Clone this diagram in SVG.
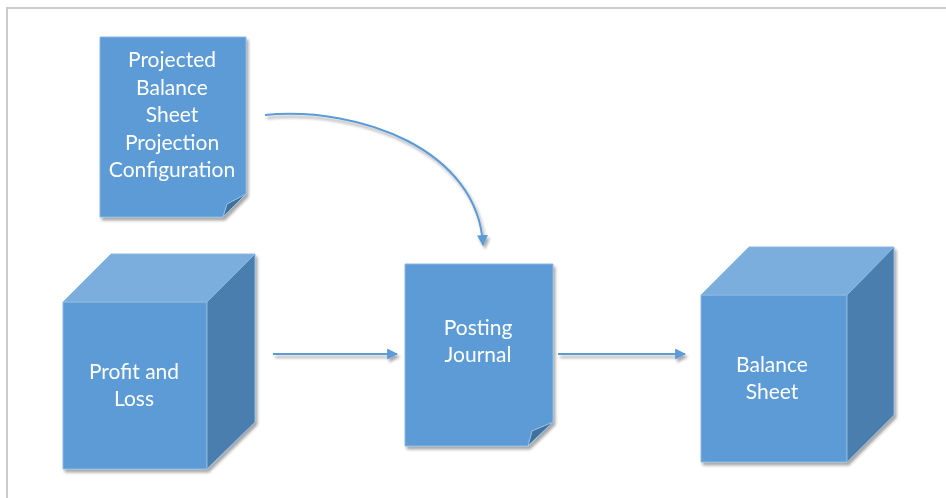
<svg xmlns="http://www.w3.org/2000/svg" width="946" height="498" viewBox="0 0 946 498">
<defs>
<filter id="sh" x="-10%" y="-10%" width="130%" height="130%">
<feGaussianBlur in="SourceAlpha" stdDeviation="1.5"/>
<feOffset dx="2" dy="3" result="b"/>
<feComponentTransfer><feFuncA type="linear" slope="0.35"/></feComponentTransfer>
<feMerge><feMergeNode/><feMergeNode in="SourceGraphic"/></feMerge>
</filter>
<marker id="ah" viewBox="0 0 10 10" refX="9" refY="5" markerWidth="5.5" markerHeight="5.5" orient="auto" markerUnits="strokeWidth">
<path d="M0,0 L10,5 L0,10 Z" fill="#5B9BD5"/>
</marker>
</defs>
<style>
.front{fill:#5B9BD5;stroke:#8DB8E2;stroke-width:1}
.top{fill:#7CAEDD;stroke:#8DB8E2;stroke-width:1}
.side{fill:#497EAE;stroke:#8DB8E2;stroke-width:1}
.fold{fill:#41719C;stroke:#9CC3E8;stroke-width:1}
.t{font-family:"Lato","Open Sans","Liberation Sans",sans-serif;font-size:21px;fill:#ffffff;text-anchor:middle}
.c{fill:none;stroke:#5B9BD5;stroke-width:2;marker-end:url(#ah)}
</style>
<rect x="0" y="0" width="946" height="498" fill="#ffffff"/>
<path d="M7,498 L7,8 L946,8" fill="none" stroke="#cccccc" stroke-width="2"/>

<g id="config" filter="url(#sh)">
<path class="front" d="M100,37 L246,37 L246,194 L223,217 L100,217 Z"/>
<path class="fold" d="M223,217 L227,204 L246,194 Z"/>
<text class="t" x="172" y="67">Projected</text>
<text class="t" x="172" y="94.5">Balance</text>
<text class="t" x="172" y="122">Sheet</text>
<text class="t" x="172" y="149.5">Projection</text>
<text class="t" x="172" y="177">Configuration</text>
</g>

<g id="profit-loss" filter="url(#sh)">
<path class="front" d="M63,302 L207,302 L207,469 L63,469 Z"/>
<path class="top" d="M63,302 L111,254 L255,254 L207,302 Z"/>
<path class="side" d="M207,302 L255,254 L255,422 L207,469 Z"/>
<text class="t" x="134" y="379">Profit and</text>
<text class="t" x="134" y="406">Loss</text>
</g>

<g id="posting-journal" filter="url(#sh)">
<path class="front" d="M405,264 L553,264 L553,422 L528,446 L405,446 Z"/>
<path class="fold" d="M528,446 L532,431 L553,422 Z"/>
<text class="t" x="478" y="335">Posting</text>
<text class="t" x="478" y="362">Journal</text>
</g>

<g id="balance-sheet" filter="url(#sh)">
<path class="front" d="M701,295 L847,295 L847,462 L701,462 Z"/>
<path class="top" d="M701,295 L749,247 L894,247 L847,295 Z"/>
<path class="side" d="M847,295 L894,247 L894,415 L847,462 Z"/>
<text class="t" x="772" y="372">Balance</text>
<text class="t" x="772" y="399">Sheet</text>
</g>

<g id="connectors" filter="url(#sh)">
<path class="c" d="M265,115 C360,106 478,150 483,245"/>
<path class="c" d="M273,354 L397,354"/>
<path class="c" d="M558,354 L685,354"/>
</g>
</svg>
